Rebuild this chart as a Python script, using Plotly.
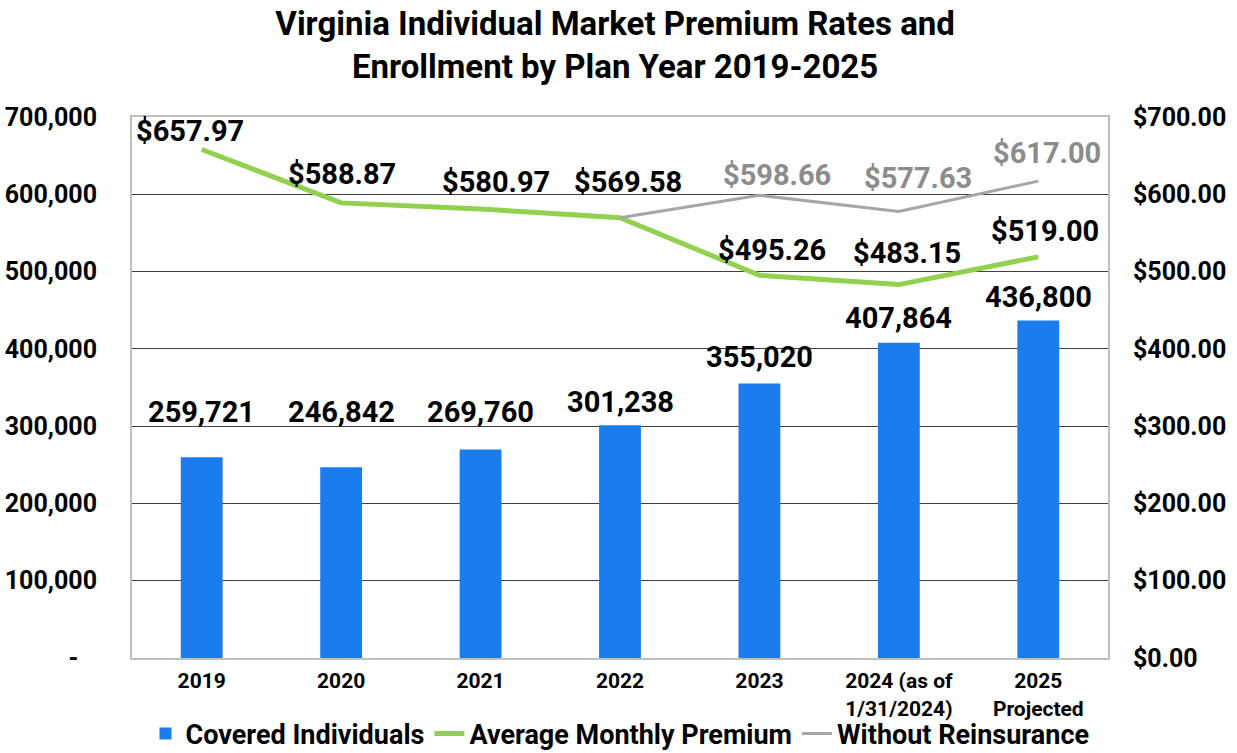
import plotly.graph_objects as go

categories = ["2019", "2020", "2021", "2022", "2023", "2024 (as of<br>1/31/2024)", "2025<br>Projected"]
covered_individuals = [259721, 246842, 269760, 301238, 355020, 407864, 436800]
avg_monthly_premium = [657.97, 588.87, 580.97, 569.58, 495.26, 483.15, 519.00]
without_reins_cats = ["2022", "2023", "2024 (as of<br>1/31/2024)", "2025<br>Projected"]
without_reinsurance = [569.58, 598.66, 577.63, 617.00]

left_tickvals = [0, 100000, 200000, 300000, 400000, 500000, 600000, 700000]
left_ticktext = ["-\u00a0\u00a0\u00a0", "100,000", "200,000", "300,000", "400,000", "500,000", "600,000", "700,000"]
right_tickvals = [0, 100, 200, 300, 400, 500, 600, 700]
right_ticktext = ["$0.00", "$100.00", "$200.00", "$300.00", "$400.00", "$500.00", "$600.00", "$700.00"]

# label offsets (styling only, pixels)
bar_label_shift = [45, 55, 38, 23, 27, 25, 23]
green_label_dx = [-12, 1, 15, 8, 13, 8, 7]
green_label_dy = [18, 29, 27, 36, 25, 32, 26]
gray_label_dx = [0, 18, 19, 9]
gray_label_dy = [0, 20, 34, 28]

FONT = "Roboto"
BLUE = "#1B7CED"
GREEN = "#92D050"
GRAY = "#A6A6A6"

fig = go.Figure()
fig.add_trace(go.Bar(x=categories, y=covered_individuals, name="Covered Individuals",
                     marker=dict(color=BLUE, line=dict(width=0)), width=0.3, yaxis="y"))
fig.add_trace(go.Scatter(x=categories, y=avg_monthly_premium, name="Average Monthly Premium",
                         mode="lines", line=dict(color=GREEN, width=5), yaxis="y2"))
fig.add_trace(go.Scatter(x=without_reins_cats, y=without_reinsurance, name="Without Reinsurance",
                         mode="lines", line=dict(color=GRAY, width=3), yaxis="y2"))

annotations = []
for i, v in enumerate(covered_individuals):
    annotations.append(dict(x=i, y=v, xref="x", yref="y", text=f"{v:,}", showarrow=False,
                            yanchor="middle", yshift=bar_label_shift[i],
                            font=dict(family=FONT, size=29, color="#000000", weight="bold")))
for i, v in enumerate(avg_monthly_premium):
    annotations.append(dict(x=i, y=v, xref="x", yref="y2", text=f"${v:,.2f}", showarrow=False,
                            yanchor="middle", xshift=green_label_dx[i], yshift=green_label_dy[i],
                            font=dict(family=FONT, size=29, color="#000000", weight="bold")))
for i, (c, v) in enumerate(zip(without_reins_cats, without_reinsurance)):
    if i == 0:
        continue
    annotations.append(dict(x=categories.index(c), y=v, xref="x", yref="y2", text=f"${v:,.2f}",
                            showarrow=False, yanchor="middle", xshift=gray_label_dx[i],
                            yshift=gray_label_dy[i],
                            font=dict(family=FONT, size=29, color="#8C8C8C", weight="bold")))

fig.update_layout(
    width=1237, height=753,
    margin=dict(l=132, r=129, t=117, b=95, autoexpand=False),
    paper_bgcolor="white", plot_bgcolor="white",
    font=dict(family=FONT, color="#000000"),
    title=dict(text="Virginia Individual Market Premium Rates and<br>Enrollment by Plan Year 2019-2025",
               x=0.495, xanchor="center", xref="paper", y=1 - 35 / 753, yref="container", yanchor="middle",
               font=dict(family=FONT, size=33, color="#000000", weight="bold")),
    showlegend=True,
    legend=dict(orientation="h", x=0.5, xanchor="center", y=19 / 753, yref="container", yanchor="middle",
                font=dict(family=FONT, size=27, color="#000000", weight="bold"),
                tracegroupgap=0, bgcolor="rgba(0,0,0,0)"),
    bargap=0.7,
    annotations=annotations,
    xaxis=dict(type="category", categoryorder="array", categoryarray=categories, range=[-0.5, 6.5],
               showline=True, linecolor="#BFBFBF", linewidth=2, mirror=True,
               showgrid=False, ticks="", ticklabelstandoff=3, automargin=False,
               tickfont=dict(family=FONT, size=21, color="#000000", weight="bold")),
    yaxis=dict(range=[0, 700000], tickvals=left_tickvals, ticktext=left_ticktext,
               showline=True, linecolor="#BFBFBF", linewidth=2, mirror=True,
               showgrid=True, gridcolor="#404040", gridwidth=1, zeroline=False,
               ticks="", ticklabelstandoff=28, automargin=False,
               tickfont=dict(family=FONT, size=25, color="#000000", weight="bold")),
    yaxis2=dict(range=[0, 700], tickvals=right_tickvals, ticktext=right_ticktext,
                overlaying="y", side="right", showgrid=False, zeroline=False, showline=False,
                ticks="", ticklabelstandoff=24, automargin=False,
                tickfont=dict(family=FONT, size=25, color="#000000", weight="bold")),
)

fig.write_html("out.html")
